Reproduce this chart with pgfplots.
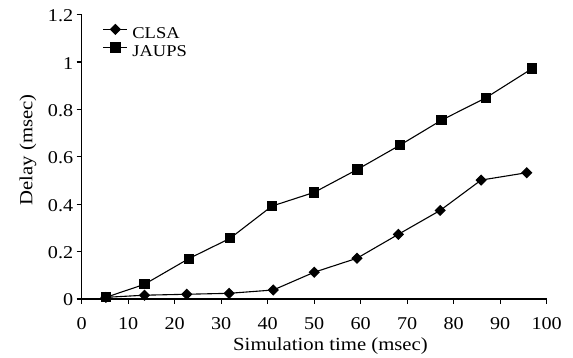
\documentclass[border=0pt]{standalone}
\usepackage{pgfplots}
\pgfplotsset{compat=1.18}
\usepackage{fontspec}
\setmainfont[FakeStretch=1.12]{Liberation Serif}
\begin{document}
\begin{tikzpicture}
\path[use as bounding box] (-81.7pt,-59pt) rectangle (491.3pt,299pt);
\begin{axis}[
  scale only axis,
  width=465pt, height=284.3pt,
  xmin=0, xmax=100, ymin=0, ymax=1.2,
  axis lines=left,
  axis line style={line width=1.3pt, -},
  xtick={0,10,...,100},
  ytick={0,0.2,...,1.2},
  yticklabels={0,0.2,0.4,0.6,0.8,1,1.2},
  tick align=outside,
  major tick length=5pt,
  tick style={line width=1.2pt, black},
  /pgf/number format/assume math mode=true,
  tick label style={font=\fontsize{18}{18}\selectfont},
  xticklabel style={anchor=base, yshift=-26pt},
  yticklabel style={anchor=base east, yshift=-7pt},
  xlabel={Simulation time (msec)},
  ylabel={Delay (msec)},
  xlabel style={at={(axis description cs:0.535,-0.1829)}, anchor=base, font=\fontsize{18.5}{18.5}\selectfont},
  ylabel style={at={(axis description cs:-0.1058,0.524)}, anchor=base, font=\fontsize{18.5}{18.5}\selectfont},
  clip=false,
  legend style={at={(axis cs:4.5,1.159)}, anchor=north west, draw=none, fill=none,
    font=\fontsize{16.5}{16.5}\selectfont, row sep=0.5pt, column sep=4.5pt, inner sep=0pt,
    nodes={inner sep=0pt, text height=12pt, text depth=4pt}},
  legend cell align=left,
  legend image code/.code={\draw[#1, mark repeat=2, mark phase=2] plot coordinates {(0pt,5pt) (12pt,5pt) (24pt,5pt)};},
]
\addplot[black, line width=1.1pt, mark=square*, mark size=3.4pt, mark options={solid, rotate=45}] coordinates {
(5.2,0.007) (13.5,0.016) (22.6,0.020) (31.7,0.024) (41.2,0.038) (50.0,0.113)
(59.2,0.172) (68.1,0.273) (77.1,0.374) (85.9,0.502) (95.7,0.533)};
\addlegendentry{CLSA}
\addplot[black, line width=1.1pt, mark=square*, mark size=4.6pt, mark options={solid}] coordinates {
(5.2,0.007) (13.5,0.062) (23.0,0.170) (31.9,0.256) (40.9,0.392) (50.0,0.450)
(59.3,0.547) (68.5,0.650) (77.4,0.755) (86.9,0.849) (96.9,0.973)};
\addlegendentry{JAUPS}
\end{axis}
\end{tikzpicture}
\end{document}
